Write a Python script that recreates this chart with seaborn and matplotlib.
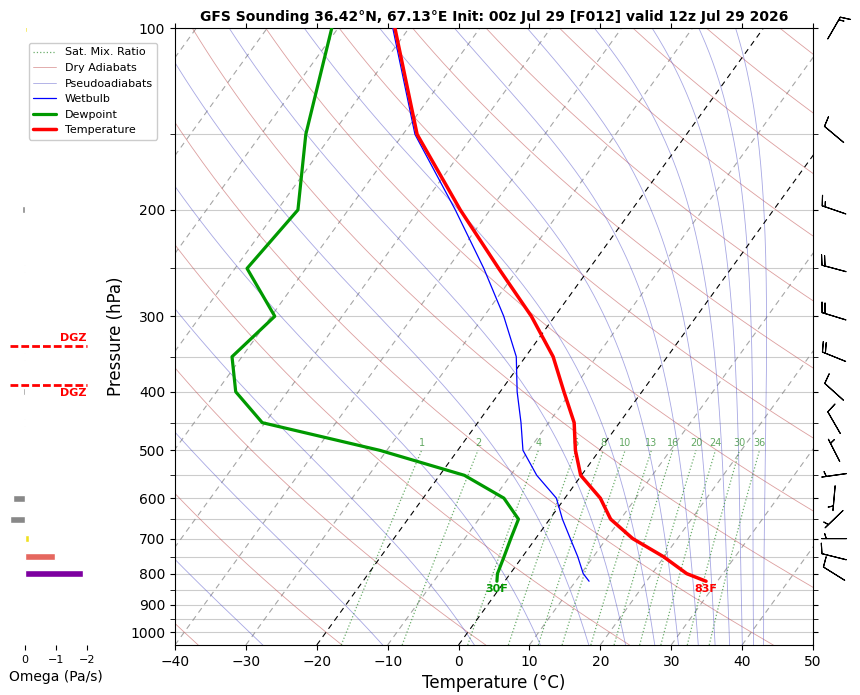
import numpy as np
import matplotlib
matplotlib.use("Agg")
import matplotlib.pyplot as plt
import seaborn as sns
from matplotlib.transforms import Affine2D
from matplotlib.lines import Line2D
from matplotlib.ticker import FixedLocator, NullFormatter, FixedFormatter, NullLocator

# ---------------- data ----------------
pressure = [823.5, 800, 750, 700, 650, 600, 550, 500, 450, 400, 350, 300, 250, 200, 150, 100]
temperature = [28.4, 24.9, 19.9, 13.7, 8.6, 5.0, -0.1, -3.4, -6.4, -11.0, -16.1, -23.3, -32.8, -44.2, -58.0, -72.0]
dewpoint = [-1.1, -1.8, -2.6, -3.5, -4.4, -8.6, -16.5, -31.0, -50.4, -57.3, -61.4, -59.5, -68.3, -67.1, -73.7, -80.9]
wetbulb = [11.9, 10.3, 7.8, 4.9, 1.8, -1.2, -6.3, -10.8, -13.9, -17.6, -21.3, -27.2, -34.9, -44.9, -58.3, -72.3]

barb_p = [100, 150, 200, 250, 300, 350, 400, 450, 500, 550, 600, 650, 700, 750, 800]
wind_dir = [30, 310, 289, 285, 287, 292, 312, 330, 333, 262, 185, 226, 270, 284, 302]
wind_kt = [15, 10, 15, 20, 20, 20, 10, 10, 5, 5, 5, 5, 5, 10, 10]

omega_p = [100, 150, 200, 250, 300, 350, 400, 450, 500, 550, 600, 650, 700, 750, 800]
omega = [-0.06, 0.0, 0.1, 0.04, 0.0, 0.03, 0.08, 0.03, 0.0, 0.0, 0.40, 0.48, -0.13, -0.97, -1.87]

mix_ratios = [1, 2, 4, 6, 8, 10, 13, 16, 20, 24, 30, 36]
p_ticks = [100, 200, 300, 400, 500, 600, 700, 800, 900, 1000]
p_minor = [150, 250, 350, 450, 550, 650, 750, 850, 950]
title = "GFS Sounding 36.42°N, 67.13°E Init: 00z Jul 29 [F012] valid 12z Jul 29 2026"

# ---------------- style ----------------
sns.set_style("ticks", rc={"axes.edgecolor": "black", "xtick.color": "black",
                           "ytick.color": "black", "text.color": "black",
                           "axes.labelcolor": "black"})
plt.rcParams["font.family"] = ["DejaVu Sans"]

fig = plt.figure(figsize=(8.6, 6.95), dpi=100)
ax = fig.add_axes([175 / 860, 50 / 695, 638 / 860, 617 / 695])
ax.set_yscale("log")
ax.set_xlim(-40, 50)
ax.set_ylim(1050, 100)
ax.set_autoscale_on(False)

skew = ax.transScale + (ax.transLimits + Affine2D().skew_deg(35, 0) + ax.transAxes)

# ---------------- thermodynamic background ----------------
Rd, Cp, Lv, eps = 287.04749, 1004.6662, 2.50084e6, 0.62196


def sat_vp(tk):
    return 6.112 * np.exp(17.67 * (tk - 273.15) / (tk - 29.65))


def dTdp(p, tk):
    es = sat_vp(tk)
    rs = eps * es / (p - es)
    return (Rd * tk + Lv * rs) / (Cp + Lv ** 2 * rs * eps / (Rd * tk ** 2)) / p


def integrate(t0k, p_from, p_to, n):
    ps = np.linspace(p_from, p_to, n)
    t = np.array(t0k, float)
    out = [t.copy()]
    for i in range(n - 1):
        h = ps[i + 1] - ps[i]
        p = ps[i]
        k1 = dTdp(p, t)
        k2 = dTdp(p + h / 2, t + h / 2 * k1)
        k3 = dTdp(p + h / 2, t + h / 2 * k2)
        k4 = dTdp(p + h, t + h * k3)
        t = t + h / 6 * (k1 + 2 * k2 + 2 * k3 + k4)
        out.append(t.copy())
    return ps, np.array(out)


def theta_e_1000(tk):
    es = sat_vp(tk)
    r = 622.0 * es / (1000.0 - es)
    return tk * np.exp((3.376 / tk - 0.00254) * r * (1 + 0.00081 * r))


pp = np.linspace(1050, 100, 200)

# isotherms
for t in range(-110, 51, 10):
    if t in (-20, 0):
        continue
    ax.plot([t, t], [1050, 100], transform=skew, color="gray", ls=(0, (5, 4)),
            lw=0.8, alpha=0.7, zorder=1)
for t in (-20, 0):
    ax.plot([t, t], [1050, 100], transform=skew, color="black", ls=(0, (5, 4)),
            lw=0.8, zorder=2)

# dry adiabats (theta every 20 C)
dry_col = "#c05050"
for th in range(-40, 251, 20):
    tt = (th + 273.15) * (pp / 1000.0) ** 0.2857 - 273.15
    ax.plot(tt, pp, transform=skew, color=dry_col, lw=0.6, alpha=0.55, zorder=1)

# pseudoadiabats (theta-e every 20 C, offset from the dry adiabats)
moist_col = "#5050c8"
tgrid = np.linspace(193.15, 325.15, 2000)
the_grid = theta_e_1000(tgrid)
theta_e_levels = np.arange(-70, 231, 20) + 273.15
t0 = np.interp(theta_e_levels, the_grid, tgrid)
p_up, t_up = integrate(t0, 1000.0, 100.0, 450)
p_dn, t_dn = integrate(t0, 1000.0, 1050.0, 20)
for i in range(len(t0)):
    ps = np.concatenate((p_dn[::-1], p_up[1:]))
    ts = np.concatenate((t_dn[::-1, i], t_up[1:, i])) - 273.15
    ax.plot(ts, ps, transform=skew, color=moist_col, lw=0.6, alpha=0.5, zorder=1)

# saturation mixing ratio lines
mix_col = "#2e8b2e"
pm = np.linspace(1050, 500, 60)
for w in mix_ratios:
    wk = w / 1000.0
    e = wk * pm / (eps + wk)
    le = np.log(e / 6.112)
    td = 243.5 * le / (17.67 - le)
    ax.plot(td, pm, transform=skew, color=mix_col, ls=":", lw=0.9, alpha=0.7, zorder=1)
    ax.annotate(str(w), xy=(td[-1], pm[-1]), xycoords=skew, xytext=(0, 2),
                textcoords="offset points", ha="center", va="bottom",
                fontsize=7, color=mix_col, alpha=0.75)

# ---------------- profiles ----------------
sns.lineplot(x=wetbulb, y=pressure, sort=False, estimator=None, ax=ax,
             color="#0000ff", lw=0.9, transform=skew, zorder=4, legend=False)
sns.lineplot(x=dewpoint, y=pressure, sort=False, estimator=None, ax=ax,
             color="#009900", lw=2.3, transform=skew, zorder=5, legend=False)
sns.lineplot(x=temperature, y=pressure, sort=False, estimator=None, ax=ax,
             color="#ff0000", lw=2.5, transform=skew, zorder=6, legend=False)

ax.annotate(f"{temperature[0] * 9 / 5 + 32:.0f}F", xy=(temperature[0], pressure[0]),
            xycoords=skew, xytext=(0, -2), textcoords="offset points",
            ha="center", va="top", fontsize=8, fontweight="bold", color="#ff0000")
ax.annotate(f"{dewpoint[0] * 9 / 5 + 32:.0f}F", xy=(dewpoint[0], pressure[0]),
            xycoords=skew, xytext=(0, -2), textcoords="offset points",
            ha="center", va="top", fontsize=8, fontweight="bold", color="#009900")

# ---------------- wind barbs ----------------
d = np.deg2rad(np.array(wind_dir, float))
s = np.array(wind_kt, float)
u = -s * np.sin(d)
v = -s * np.cos(d)
ax.barbs(np.full(len(barb_p), 1.033), barb_p, u, v, transform=ax.get_yaxis_transform(),
         pivot="middle", length=6, lw=0.8, color="black", clip_on=False, zorder=7)

# ---------------- axes cosmetics ----------------
ax.set_xlim(-40, 50)
ax.set_ylim(1050, 100)
ax.yaxis.set_major_locator(FixedLocator(p_ticks))
ax.yaxis.set_major_formatter(FixedFormatter([str(p) for p in p_ticks]))
ax.yaxis.set_minor_locator(FixedLocator(p_minor))
ax.yaxis.set_minor_formatter(NullFormatter())
ax.set_xticks(range(-40, 51, 10))
ax.yaxis.grid(True, which="both", color="#cccccc", lw=0.8, zorder=0)
ax.tick_params(which="both", top=True, right=True, labelsize=10)
ax.tick_params(which="minor", length=3.5)
ax.set_xlabel("Temperature (°C)", fontsize=12)
ax.set_ylabel("Pressure (hPa)", fontsize=12)
ax.set_title(title, fontsize=10, fontweight="bold", pad=5)

handles = [
    Line2D([], [], color=mix_col, ls=":", lw=0.9, alpha=0.7),
    Line2D([], [], color=dry_col, lw=0.6, alpha=0.55),
    Line2D([], [], color=moist_col, lw=0.6, alpha=0.5),
    Line2D([], [], color="#0000ff", lw=0.9),
    Line2D([], [], color="#009900", lw=2.3),
    Line2D([], [], color="#ff0000", lw=2.5),
]
labels = ["Sat. Mix. Ratio", "Dry Adiabats", "Pseudoadiabats", "Wetbulb", "Dewpoint", "Temperature"]
fig.legend(handles, labels, loc="upper left", bbox_to_anchor=(29 / 860, 1 - 43 / 695),
           fontsize=8, borderaxespad=0, framealpha=1)

# ---------------- omega panel ----------------
oax = fig.add_axes([9.6 / 860, 50 / 695, 92.4 / 860, 617 / 695])
oax.set_yscale("log")
oax.set_ylim(1050, 100)
oax.set_xlim(0.5, -2.5)


def omega_color(w):
    if w >= 0:
        return "#888888"
    if w > -0.5:
        return "#f0e020"
    if w > -1.5:
        return "#e5675f"
    return "#7d00a0"


op = np.array(omega_p, float)
oax.barh(op, omega, height=op * 0.027, color=[omega_color(w) for w in omega], zorder=2)

# dendritic growth zone from temperature profile (-12 .. -18 C)
lp = np.log(np.array(pressure, float))
tarr = np.array(temperature, float)


def crossing(target):
    for i in range(len(tarr) - 1):
        if (tarr[i] - target) * (tarr[i + 1] - target) <= 0 and tarr[i] != tarr[i + 1]:
            f = (target - tarr[i]) / (tarr[i + 1] - tarr[i])
            return float(np.exp(lp[i] + f * (lp[i + 1] - lp[i])))
    return None


p_dgz_bot = crossing(-12.0)
p_dgz_top = crossing(-18.0)
oax.hlines([p_dgz_top, p_dgz_bot], 0.5, -2.0, colors="red", lw=2.0,
           linestyles=[(0, (2.8, 1.1))], zorder=3)
oax.annotate("DGZ", xy=(-2.0, p_dgz_top), xytext=(0, 2), textcoords="offset points",
             ha="right", va="bottom", fontsize=8, fontweight="bold", color="red")
oax.annotate("DGZ", xy=(-2.0, p_dgz_bot), xytext=(0, -2), textcoords="offset points",
             ha="right", va="top", fontsize=8, fontweight="bold", color="red")

for sp in oax.spines.values():
    sp.set_visible(False)
oax.yaxis.set_major_locator(NullLocator())
oax.yaxis.set_minor_locator(NullLocator())
oax.set_xticks([0, -1, -2])
oax.tick_params(axis="x", labelsize=8, length=3.5)
oax.set_xlabel("Omega (Pa/s)", fontsize=10)

fig.savefig("out.png", dpi=100)
